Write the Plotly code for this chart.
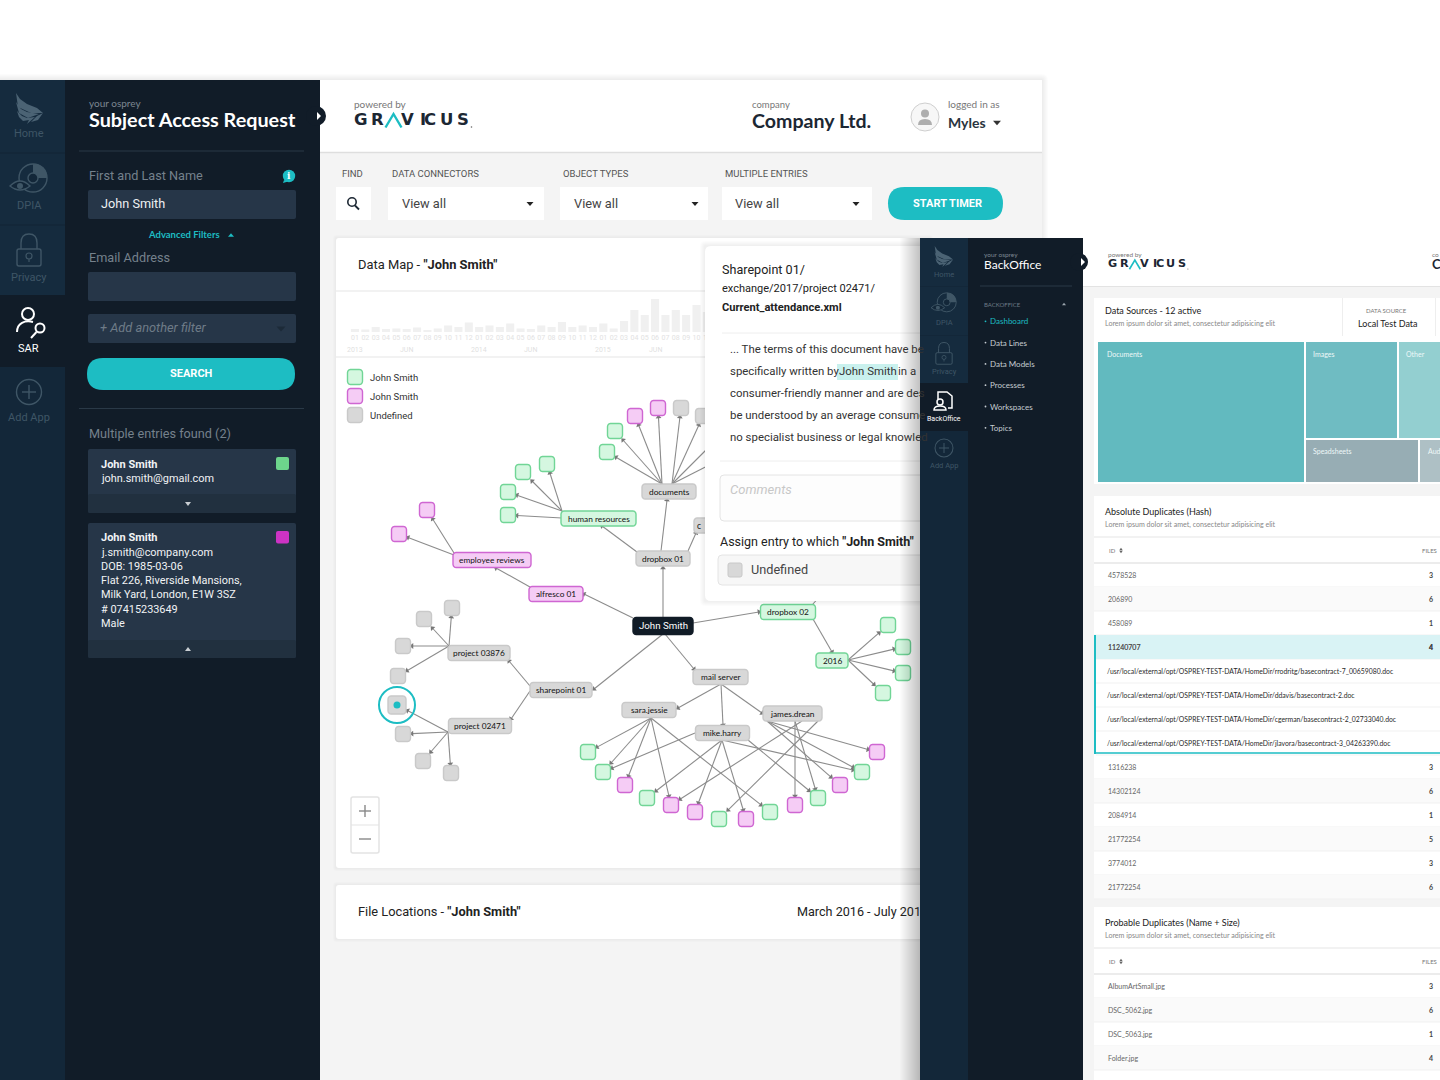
import math
import plotly.graph_objects as go

TEAL = "#1dbdc3"
EDGE = "#8c8c8c"
PANEL = "#111c28"
SIDE = "#132739"
ROW = "#152b3e"
INPUT = "#263648"

# mini timeline above the data map
month_ticks = ["01", "02", "03", "04", "05", "06", "07", "08", "09", "10", "11", "12"] * 3
month_counts = [3, 2.5, 5, 3, 3.5, 3, 4.5, 2, 3.5, 6.5, 5, 9.5,
                5, 6.5, 5, 8.5, 3.5, 3, 6.5, 5, 10, 5, 6.5, 5,
                8.5, 3.5, 11, 22, 17, 33, 17, 22, 17, 27, 20]
year_pos = [0, 5, 12, 17, 24, 29]
year_labels = ["2013", "JUN", "2014", "JUN", "2015", "JUN"]

# data map nodes: name, centre x, centre y, width, group
node_names = ["John Smith", "documents", "human resources", "dropbox 01", "c", "employee reviews", "alfresco 01",
              "project 03876", "sharepoint 01", "project 02471", "dropbox 02", "2016", "mail server",
              "sara.jessie", "mike.harry", "james.drean"]
node_x = [663, 669, 598.5, 663, 721, 492, 556, 479, 561, 480, 788, 832, 720.5, 649, 722.5, 792.5]
node_y = [626, 491.5, 518.5, 558.5, 525.5, 560, 594, 653, 690, 726, 612, 660.5, 677, 710, 733, 713.5]
node_w = [60, 54, 75, 54, 54, 78, 54, 62, 62, 63, 55, 32, 55, 54, 54, 59]
node_group = ["dark", "grey", "green", "grey", "grey", "pink", "pink", "grey", "grey", "grey",
              "green", "green", "grey", "grey", "grey", "grey"]

leaf_names = ["d1", "d2", "d3", "d4", "d5", "d6", "d7", "d8", "h1", "h2", "h3", "h4", "e1", "e2",
              "p1", "p2", "p3", "p4", "q1", "q2", "q3", "q4", "y1", "y2", "y3", "y4", "z0",
              "b1", "b2", "b3", "b4", "b5", "b6", "b7", "b8", "b9", "b10", "b11", "b12", "b13", "b14"]
leaf_x = [607, 615, 635, 658, 681, 703, 725, 735, 508, 508, 523, 547, 427, 399,
          452, 424, 403, 398, 397, 403, 423, 451, 888, 903, 903, 883, 835,
          588, 603, 625, 647, 671, 695, 719, 746, 770, 795, 818, 840, 862, 877]
leaf_y = [452, 431, 416, 408, 408, 416, 431, 452, 492, 515, 472, 464, 510, 534,
          608, 619, 646, 676, 705, 734, 761, 773, 625, 647, 673, 693, 580,
          752, 772, 785, 798, 805, 812, 819, 819, 812, 805, 798, 785, 772, 752]
leaf_group = ["green", "green", "pink", "pink", "grey", "grey", "grey", "grey", "green", "green", "green", "green",
              "pink", "pink", "grey", "grey", "grey", "grey", "grey", "grey", "grey", "grey",
              "green", "green", "green", "green", "green",
              "green", "green", "pink", "green", "pink", "pink", "green", "pink", "green", "pink", "green",
              "pink", "green", "pink"]

# edges: source, target, where the line leaves the source
edges = [
    ("John Smith", "dropbox 01", 663, 618), ("John Smith", "alfresco 01", 633, 618),
    ("John Smith", "sharepoint 01", 663, 634), ("John Smith", "mail server", 665, 634),
    ("John Smith", "dropbox 02", 693, 623),
    ("dropbox 01", "documents", 661, 551), ("dropbox 01", "human resources", 637, 552), ("dropbox 01", "c", 688, 551),
    ("alfresco 01", "employee reviews", 530, 587),
    ("sharepoint 01", "project 03876", 530, 686), ("sharepoint 01", "project 02471", 530, 691),
    ("dropbox 02", "2016", 813, 619), ("dropbox 02", "z0", 812, 605),
    ("mail server", "sara.jessie", 721, 684), ("mail server", "mike.harry", 721, 684), ("mail server", "james.drean", 721, 684),
    ("documents", "d1", 662, 484), ("documents", "d2", 662, 484), ("documents", "d3", 662, 484), ("documents", "d4", 662, 484),
    ("documents", "d5", 672, 484), ("documents", "d6", 672, 484), ("documents", "d7", 672, 484), ("documents", "d8", 672, 484),
    ("human resources", "h1", 562, 511), ("human resources", "h2", 562, 518), ("human resources", "h3", 562, 511), ("human resources", "h4", 562, 511),
    ("employee reviews", "e1", 454, 553), ("employee reviews", "e2", 454, 555),
    ("project 03876", "p1", 449, 646), ("project 03876", "p2", 449, 646), ("project 03876", "p3", 449, 646), ("project 03876", "p4", 449, 646),
    ("project 02471", "q1", 448, 732), ("project 02471", "q2", 448, 732), ("project 02471", "q3", 448, 732), ("project 02471", "q4", 448, 732),
    ("2016", "y1", 848, 660), ("2016", "y2", 848, 660), ("2016", "y3", 848, 660), ("2016", "y4", 848, 660),
    ("sara.jessie", "b1", 651, 718), ("sara.jessie", "b2", 651, 718), ("sara.jessie", "b3", 651, 718),
    ("sara.jessie", "b5", 651, 718), ("sara.jessie", "b9", 651, 718),
    ("mike.harry", "b2", 695, 733), ("mike.harry", "b4", 722, 740), ("mike.harry", "b6", 722, 740),
    ("mike.harry", "b8", 722, 740), ("mike.harry", "b11", 748, 740), ("mike.harry", "b13", 722, 740),
    ("james.drean", "b14", 767, 721), ("james.drean", "b13", 767, 721), ("james.drean", "b12", 767, 721),
    ("james.drean", "b10", 795, 721), ("james.drean", "b11", 795, 721), ("james.drean", "b7", 818, 721),
    ("james.drean", "b5", 802, 721),
]

# arrow tips on labelled targets
edge_tips = {
    ("John Smith", "dropbox 01"): (663, 568), ("John Smith", "alfresco 01"): (584, 594),
    ("John Smith", "sharepoint 01"): (594, 689), ("John Smith", "mail server"): (694, 669),
    ("John Smith", "dropbox 02"): (759, 612), ("dropbox 01", "documents"): (667, 500),
    ("dropbox 01", "human resources"): (602, 526), ("dropbox 01", "c"): (696, 533),
    ("alfresco 01", "employee reviews"): (496, 568), ("sharepoint 01", "project 03876"): (509, 661),
    ("sharepoint 01", "project 02471"): (511, 719), ("dropbox 02", "2016"): (832, 652),
    ("mail server", "sara.jessie"): (678, 708), ("mail server", "mike.harry"): (723, 725),
    ("mail server", "james.drean"): (762, 713),
}

legend_labels = ["John Smith", "John Smith", "Undefined"]
legend_groups = ["green", "pink", "grey"]
legend_y = [377, 396, 415]

filter_labels = ["FIND", "DATA CONNECTORS", "OBJECT TYPES", "MULTIPLE ENTRIES"]
filter_label_x = [342, 392, 563, 725]

entry_lines = ["j.smith@company.com", "DOB: 1985-03-06", "Flat 226, Riverside Mansions,",
               "Milk Yard, London, E1W 3SZ", "# 07415233649", "Male"]

doc_lines = ["... The terms of this document have be", "specifically written by", "consumer-friendly manner and are des",
             "be understood by an average consume", "no specialist business or legal knowled"]

menu_items = ["Dashboard", "Data Lines", "Data Models", "Processes", "Workspaces", "Topics"]

hash_ids = ["4578528", "206890", "458089", "11240707"]
hash_files = [3, 6, 1, 4]
hash_paths = ["/usr/local/external/opt/OSPREY-TEST-DATA/HomeDir/rrodritg/basecontract-7_00659080.doc",
              "/usr/local/external/opt/OSPREY-TEST-DATA/HomeDir/ddavis/basecontract-2.doc",
              "/usr/local/external/opt/OSPREY-TEST-DATA/HomeDir/cgerman/basecontract-2_02733040.doc",
              "/usr/local/external/opt/OSPREY-TEST-DATA/HomeDir/jlavora/basecontract-3_04263390.doc"]
hash_ids2 = ["1316238", "14302124", "2084914", "21772254", "3774012", "21772254"]
hash_files2 = [3, 6, 1, 5, 3, 6]
name_ids = ["AlbumArtSmall.jpg", "DSC_5062.jpg", "DSC_5063.jpg", "Folder.jpg"]
name_files = [3, 6, 1, 4]

shapes = []
notes = []


def rr_path(x0, y0, x1, y1, r):
    return (f"M{x0+r},{y0} L{x1-r},{y0} Q{x1},{y0} {x1},{y0+r} L{x1},{y1-r} Q{x1},{y1} {x1-r},{y1} "
            f"L{x0+r},{y1} Q{x0},{y1} {x0},{y1-r} L{x0},{y0+r} Q{x0},{y0} {x0+r},{y0} Z")


def rect(x0, y0, x1, y1, fill, layer="below", r=0, line=None, lw=1):
    s = dict(xref="x", yref="y", layer=layer, fillcolor=fill, line=dict(color=line or "rgba(0,0,0,0)", width=lw if line else 0))
    if r:
        s.update(type="path", path=rr_path(x0, y0, x1, y1, r))
    else:
        s.update(type="rect", x0=x0, y0=y0, x1=x1, y1=y1)
    shapes.append(s)


def path(d, fill="rgba(0,0,0,0)", line=None, lw=1, layer="below"):
    shapes.append(dict(type="path", path=d, xref="x", yref="y", layer=layer, fillcolor=fill,
                       line=dict(color=line or "rgba(0,0,0,0)", width=lw if line else 0)))


def circle(cx, cy, r, fill="rgba(0,0,0,0)", line=None, lw=1, layer="below"):
    shapes.append(dict(type="circle", x0=cx-r, x1=cx+r, y0=cy-r, y1=cy+r, xref="x", yref="y", layer=layer,
                       fillcolor=fill, line=dict(color=line or "rgba(0,0,0,0)", width=lw if line else 0)))


def seg(x0, y0, x1, y1, color, lw=1, layer="below"):
    shapes.append(dict(type="line", x0=x0, y0=y0, x1=x1, y1=y1, xref="x", yref="y", layer=layer, line=dict(color=color, width=lw)))


def tri(cx, cy, w, h, color, up=True, layer="below"):
    t, b = (cy-h/2, cy+h/2) if up else (cy+h/2, cy-h/2)
    path(f"M{cx-w/2},{b} L{cx+w/2},{b} L{cx},{t} Z", fill=color, layer=layer)


def text(x, y, s, size=12, color="#333", anchor="left", family="Roboto", xref="x"):
    # larger text sits a little low against the reference
    if size >= 9:
        y -= 0.7
    notes.append(dict(x=x, y=y, text=s, xref=xref, yref="y", xanchor=anchor, yanchor="middle", showarrow=False,
                      borderpad=0, borderwidth=0, font=dict(size=size, color=color, family=family)))


def shadow(x0, y0, x1, y1, spread, layer, alpha=0.012):
    for i in range(spread):
        d = spread - i
        rect(x0-d, y0-d, x1+d, y1+d, f"rgba(0,0,0,{alpha})", layer=layer, r=d)


def logo(x, y, k, layer="below"):
    # wordmark with the teal chevron in place of the A
    for ch, dx in zip("GRVICUS", [0, 17, 47, 66, 70, 86, 102.5]):
        text(x + dx*k, y, f"<b>{ch}</b>", 16.5*k, "#1c2733", family="DejaVu Sans")
    path(f"M{x+31.5*k},{y+7*k} L{x+39.5*k},{y-6.5*k} L{x+47.5*k},{y+7*k}", line=TEAL, lw=2.4*k, layer=layer)
    circle(x+117.5*k, y+6.5*k, 0.8*k, fill="#666", layer=layer)


def bird(x, y, k, color, layer="below"):
    feathers = [[(1, 0), (5, 6), (12, 11), (22, 15), (28, 20), (16, 20), (3, 14), (1, 0)],
                [(1, 9), (6, 16), (12, 19), (24, 21), (13, 25), (4, 20), (1, 9)],
                [(2, 18), (7, 23), (12, 25), (20, 24), (12, 31), (14, 27), (8, 28), (4, 24), (2, 18)],
                [(28, 20), (23, 27), (16, 29), (22, 23), (28, 20)]]
    for f in feathers:
        d = "M" + " L".join(f"{x+a*k},{y+b*k}" for a, b in f) + " Z"
        path(d, fill=color, layer=layer)


def disc_icon(cx, cy, k, color, layer="below"):
    circle(cx+4*k, cy-1*k, 14*k, line=color, lw=1.4*k, layer=layer)
    path(f"M{cx+4*k},{cy-15*k} Q{cx+18*k},{cy-15*k} {cx+18*k},{cy-1*k} L{cx+9*k},{cy-1*k} L{cx+4*k},{cy-6*k} Z", fill=color, layer=layer)
    circle(cx+4*k, cy-1*k, 5*k, fill=SIDE, line=color, lw=1.4*k, layer=layer)
    path(f"M{cx-19*k},{cy+7*k} Q{cx-9*k},{cy-3*k} {cx+1*k},{cy+7*k} Q{cx-9*k},{cy+15*k} {cx-19*k},{cy+7*k} Z", fill=SIDE, line=color, lw=1.4*k, layer=layer)
    circle(cx-9*k, cy+7*k, 3*k, fill=color, layer=layer)


def lock_icon(cx, cy, k, color, layer="below"):
    rect(cx-12*k, cy+1*k, cx+12*k, cy+18*k, "rgba(0,0,0,0)", layer=layer, r=2*k, line=color, lw=1.4*k)
    path(f"M{cx-8*k},{cy+1*k} L{cx-8*k},{cy-5*k} Q{cx-8*k},{cy-14*k} {cx},{cy-14*k} Q{cx+8*k},{cy-14*k} {cx+8*k},{cy-5*k} L{cx+8*k},{cy+1*k}", line=color, lw=1.4*k, layer=layer)
    circle(cx, cy+8*k, 3*k, line=color, lw=1.2*k, layer=layer)
    seg(cx, cy+11*k, cx, cy+14*k, color, 1.2*k, layer)


def plus_icon(cx, cy, k, color, layer="below"):
    circle(cx, cy, 12.5*k, line=color, lw=1.4*k, layer=layer)
    seg(cx-7*k, cy, cx+7*k, cy, color, 1.4*k, layer)
    seg(cx, cy-7*k, cx, cy+7*k, color, 1.4*k, layer)


# --- first window --------------------------------------------------------
shadow(0, 80, 1042, 1090, 6, "below", 0.01)
rect(320, 80, 1042, 1080, "#f4f4f4")
rect(320, 80, 1042, 152, "#ffffff")
seg(320, 152.5, 1042, 152.5, "#dedede", 1.5)
rect(0, 80, 65, 1080, SIDE)
rect(65, 80, 320, 1080, PANEL)
rect(0, 80, 65, 152, ROW)
rect(0, 154, 65, 224, ROW)
rect(0, 226, 65, 295, ROW)
rect(0, 295, 65, 367, PANEL)

icon_dim = "#3f5666"
bird(15, 93, 1, "#4b6374")
text(29, 134, "Home", 11, icon_dim, "center")
disc_icon(29, 179, 1, icon_dim)
text(29, 206, "DPIA", 11, icon_dim, "center")
lock_icon(29, 248, 1, icon_dim)
text(29, 278, "Privacy", 11, icon_dim, "center")
circle(28, 314, 6, line="#ffffff", lw=2)
path("M17,332 C17,323 25,320 33,322", line="#ffffff", lw=2)
circle(40, 328, 4.5, line="#ffffff", lw=2)
seg(36.5, 332, 31, 338, "#ffffff", 2)
text(28, 349.5, "SAR", 11, "#ffffff", "center")
plus_icon(29, 392, 1, icon_dim)
text(29, 418.5, "Add App", 11, icon_dim, "center")

text(89, 104, "your osprey", 10, "#7d8791", family="Lato")
text(89, 120, "<b>Subject Access Request</b>", 19.8, "#ffffff", family="Lato")
seg(79, 151, 304, 151, "#2a3947", 1)
text(89, 176, "First and Last Name", 12.7, "#75818c")
circle(289, 176, 6.2, fill=TEAL)
path("M284,180 L283,183 L288,181.5 Z", fill=TEAL)
text(289, 176.5, "<b>i</b>", 9, "#ffffff", "center", family="DejaVu Serif")
rect(88, 190, 296, 219, INPUT, r=2)
text(101, 204, "John Smith", 12.7, "#eef1f3")
text(148, 235.5, "<b>Advanced Filters</b>", 9.5, TEAL, family="Lato")
tri(231, 235, 6, 3.5, TEAL)
text(89, 258, "Email Address", 12.7, "#75818c")
rect(88, 272, 296, 301, INPUT, r=2)
rect(88, 314, 296, 343, INPUT, r=2)
text(100, 328, "<i>+ Add another filter</i>", 12.8, "#6e7b87")
tri(281, 329, 9, 5, "#1c2a38", up=False)
rect(87, 358, 295, 390, TEAL, r=16)
text(191, 374, "<b>SEARCH</b>", 11, "#ffffff", "center")
seg(79, 408.5, 304, 408.5, "#2a3947", 1)
text(89, 434, "Multiple entries found (2)", 12.7, "#75818c")

rect(88, 449, 296, 513, INPUT, r=2)
rect(88, 494, 296, 513, "#21303f", r=2)
text(101, 465, "<b>John Smith</b>", 11, "#f1f3f5")
text(101, 479.5, "john.smith@gmail.com", 10.9, "#f1f3f5")
rect(276, 457, 289, 470, "#6dd58c", r=2)
tri(188, 504, 6, 4, "#c9ced3", up=False)

rect(88, 523, 296, 658, INPUT, r=2)
rect(88, 640, 296, 658, "#21303f", r=2)
text(101, 538.5, "<b>John Smith</b>", 11, "#f1f3f5")
for i, line in enumerate(entry_lines):
    text(101, 553 + i*14.2, line, 10.9, "#f1f3f5")
rect(276, 531, 289, 543.5, "#cc33c4", r=2)
tri(188, 649, 6, 4, "#c9ced3")

circle(316, 116, 10, fill=PANEL)
path("M317,112 L317,120 L321,116 Z", fill="#ffffff")

text(354, 105, "powered by", 10, "#777", family="Lato")
logo(354, 120.5, 1)
text(752, 105, "company", 9.5, "#777", family="Lato")
text(752, 121.5, "<b>Company Ltd.</b>", 19.6, "#1c2733", family="Lato")
circle(925, 117, 14, fill="#f7f7f7", line="#cfcfcf")
circle(925, 113.5, 4, fill="#aeaeae")
path("M918,125 Q918,119 925,119 Q932,119 932,125 Z", fill="#aeaeae")
text(948, 105, "logged in as", 10, "#777", family="Lato")
text(948, 123.5, "<b>Myles</b>", 14, "#2a3540", family="Lato")
tri(997, 123, 8, 4.5, "#333", up=False)

for lab, lx in zip(filter_labels, filter_label_x):
    text(lx, 174, lab, 9.5, "#555")
rect(336, 187, 371, 220, "#ffffff")
circle(352, 202, 4.2, line="#1c2733", lw=1.6)
seg(355, 205.5, 359, 209.5, "#1c2733", 1.8)
for x0, x1, tx, cx in [(388, 544, 402, 530), (560, 708, 574, 695), (722, 872, 735, 856)]:
    rect(x0, 187, x1, 220, "#ffffff")
    text(tx, 204, "View all", 12.8, "#444")
    tri(cx, 204, 7, 4, "#222", up=False)
rect(888, 187, 1003, 220, TEAL, r=16.5)
text(947, 204, "<b>START TIMER</b>", 11, "#ffffff", "center")

shadow(336, 238, 930, 868, 3, "below", 0.012)
rect(336, 238, 930, 868, "#ffffff", r=3)
seg(336, 291, 930, 291, "#eeeeee", 1.5)
seg(336, 357, 930, 357, "#eeeeee", 1.5)
text(358, 265, 'Data Map - <b>"John Smith"</b>', 12.9, "#222")
for lab, ly in zip(legend_labels, legend_y):
    text(370, ly + 1, lab, 9.5, "#333")
for p, lbl in zip(year_pos, year_labels):
    text(p, 350, lbl, 7, "#dfdfdf", "center", xref="x2")

rect(351, 797, 379, 853, "#ffffff", line="#e3e3e3", lw=1.5, r=2)
seg(351, 825, 379, 825, "#e3e3e3", 1)
seg(359, 811, 371, 811, "#888", 1.4)
seg(365, 805, 365, 817, "#888", 1.4)
seg(359, 839, 371, 839, "#888", 1.4)

shadow(336, 885, 930, 939, 3, "below", 0.012)
rect(336, 885, 930, 939, "#ffffff", r=3)
text(358, 912, 'File Locations - <b>"John Smith"</b>', 12.8, "#222")
text(797, 912, "March 2016 - July 201", 12.6, "#222")

# --- popup over the map (above the graph traces) -------------------------
A = "above"
shadow(705, 246, 930, 601, 5, A, 0.012)
rect(705, 246, 930, 601, "#ffffff", layer=A, r=6)
text(722, 270, "Sharepoint 01/", 12.6, "#222")
text(722, 289, "exchange/2017/project 02471/", 11, "#222")
text(722, 308, "<b>Current_attendance.xml</b>", 11.1, "#222")
seg(722, 333, 920, 333, "#eeeeee", 1, A)
rect(837, 364, 898, 380, "#c9f1ee", layer=A)
for i, line in enumerate(doc_lines):
    text(730, 350 + i*22, line, 11.4, "#333")
text(839, 372, "John Smith", 11.4, "#333")
text(898, 372, "in a", 11.4, "#333")
seg(720, 461, 920, 461, "#eeeeee", 1, A)
rect(720, 475, 935, 521, "#fdfdfd", layer=A, r=4, line="#e4e4e4")
text(730, 490, "<i>Comments</i>", 13, "#c8c8c8")
text(720, 542, 'Assign entry to which <b>"John Smith"</b>', 12.5, "#222")
rect(718, 555, 935, 585, "#f7f7f7", layer=A, r=4, line="#e4e4e4")
rect(728, 563, 742, 577, "#d8d8d8", layer=A, r=2, line="#c8c8c8")
text(751, 570, "Undefined", 12.7, "#444")

# --- second window -------------------------------------------------------
for i in range(20):
    rect(900 + i, 238, 920, 1080, "rgba(0,0,0,0.012)", layer=A)
rect(920, 238, 1440, 1080, "#f4f4f4", layer=A)
rect(1083, 238, 1440, 286, "#ffffff", layer=A)
seg(1083, 286.5, 1440, 286.5, "#e3e3e3", 1, A)
rect(920, 238, 968, 1080, SIDE, layer=A)
rect(968, 238, 1083, 1080, PANEL, layer=A)
rect(920, 238, 968, 286, ROW, layer=A)
rect(920, 287, 968, 335, ROW, layer=A)
rect(920, 336, 968, 383, ROW, layer=A)
rect(920, 383, 968, 431, PANEL, layer=A)
bird(934, 246, 0.68, "#4b6374", A)
text(944, 274, "Home", 7.5, icon_dim, "center")
disc_icon(944, 303, 0.68, icon_dim, A)
text(944, 322, "DPIA", 7.5, icon_dim, "center")
lock_icon(944, 352, 0.68, icon_dim, A)
text(944, 371, "Privacy", 7.5, icon_dim, "center")
path("M938,399 L938,392 L947,392 L952,396 L952,408 L948,408", line="#ffffff", lw=1.5, layer=A)
circle(940, 402, 3, line="#ffffff", lw=1.5, layer=A)
path("M934,410 Q934,406 940,406 Q946,406 946,410 Z", line="#ffffff", lw=1.5, layer=A)
text(944, 419, "BackOffice", 7, "#ffffff", "center")
plus_icon(944, 448, 0.72, icon_dim, A)
text(944, 465.5, "Add App", 7.5, icon_dim, "center")

text(984, 254, "your osprey", 6.5, "#7d8791", family="Lato")
text(984, 265, "BackOffice", 12, "#ffffff", family="Lato")
seg(980, 286, 1072, 286, "#2a3947", 1, A)
text(984, 304, "BACKOFFICE", 6, "#6e7b87", family="Lato")
tri(1064, 304, 4, 2.5, "#9aa4ad", layer=A)
for i, item in enumerate(menu_items):
    c = TEAL if i == 0 else "#c6ccd2"
    circle(985.5, 321.3 + i*21.3, 0.9, fill=c, layer=A)
    text(990, 321.3 + i*21.3, item, 8, c, family="Lato")

circle(1079, 262, 9, fill=PANEL, layer=A)
path("M1081,258 L1081,266 L1085,262 Z", fill="#ffffff", layer=A)

text(1108, 254, "powered by", 6.5, "#777", family="Lato")
logo(1108, 264.5, 0.68, A)
text(1432, 254, "co", 6.5, "#777", family="Lato")
text(1432, 265, "<b>C</b>", 13, "#1c2733", family="Lato")

# data sources card with the treemap
rect(1094, 298, 1440, 484, "#ffffff", layer=A)
seg(1342.5, 298, 1342.5, 336, "#eeeeee", 1, A)
seg(1435.5, 298, 1435.5, 336, "#eeeeee", 1, A)
text(1105, 311, "Data Sources - 12 active", 9, "#222", family="Lato")
text(1105, 323.5, "Lorem ipsum dolor sit amet, consectetur adipisicing elit", 7.1, "#888", family="Lato")
text(1386, 310.5, "DATA SOURCE", 6, "#777", "center", family="Lato")
text(1388, 324, "Local Test Data", 9, "#222", "center", family="Lato")
rect(1098, 342, 1304, 482, "#62babf", layer=A)
rect(1306, 342, 1397, 438, "#6fbcc2", layer=A)
rect(1399, 342, 1440, 438, "#93cfd0", layer=A)
rect(1306, 440, 1418, 482, "#97adb4", layer=A)
rect(1420, 440, 1440, 482, "#aec0c5", layer=A)
text(1107, 354, "Documents", 7, "#eef8f8", family="Lato")
text(1313, 354, "Images", 7, "#eef8f8", family="Lato")
text(1406, 354, "Other", 7, "#eef8f8", family="Lato")
text(1313, 450.5, "Speadsheets", 7, "#eef8f8", family="Lato")
text(1428, 450.5, "Aud", 7, "#eef8f8", family="Lato")


def table_rows(y_first, ids, files, layer=A):
    for i, (row_id, row_files) in enumerate(zip(ids, files)):
        y = y_first + i*24
        if i % 2:
            rect(1094, y-12, 1440, y+12, "#fafafa", layer=layer)
        seg(1094, y+12, 1440, y+12, "#f1f1f1", 1, layer)
        text(1108, y-0.5, row_id, 7, "#666", family="Lato")
        text(1433, y-0.5, f"<b>{row_files}</b>", 7, "#444", "right", family="Lato")


# absolute duplicates
rect(1094, 496, 1440, 896, "#ffffff", layer=A)
text(1105, 512, "Absolute Duplicates (Hash)", 9, "#222", family="Lato")
text(1105, 524, "Lorem ipsum dolor sit amet, consectetur adipisicing elit", 7.1, "#888", family="Lato")
seg(1094, 537, 1440, 537, "#eeeeee", 1.5, A)
text(1109, 550, "ID", 6, "#777", family="Lato")
tri(1121, 549, 3.5, 2.5, "#666", layer=A)
tri(1121, 552, 3.5, 2.5, "#666", up=False, layer=A)
text(1437, 550, "FILES", 6, "#777", "right", family="Lato")
seg(1094, 563, 1440, 563, "#e6e6e6", 1.5, A)
table_rows(575, hash_ids, hash_files)
rect(1094, 635, 1440, 659, "#d9f3f5", layer=A)
text(1108, 646.5, hash_ids[3], 7, "#555", family="Lato")
text(1433, 646.5, f"<b>{hash_files[3]}</b>", 7, "#444", "right", family="Lato")
for i, p in enumerate(hash_paths):
    y = 671 + i*24
    seg(1096, y+12, 1440, y+12, "#f1f1f1", 1, A)
    text(1107, y-0.5, p, 6.85, "#2a2a2a", family="Lato")
rect(1094, 635, 1096, 754, TEAL, layer=A)
seg(1094, 753, 1440, 753, TEAL, 1.5, A)
table_rows(767, hash_ids2, hash_files2)

# probable duplicates
rect(1094, 907, 1440, 1080, "#ffffff", layer=A)
text(1105, 923, "Probable Duplicates (Name + Size)", 9, "#222", family="Lato")
text(1105, 935, "Lorem ipsum dolor sit amet, consectetur adipisicing elit", 7.1, "#888", family="Lato")
seg(1094, 948, 1440, 948, "#eeeeee", 1.5, A)
text(1109, 961, "ID", 6, "#777", family="Lato")
tri(1121, 960, 3.5, 2.5, "#666", layer=A)
tri(1121, 963, 3.5, 2.5, "#666", up=False, layer=A)
text(1437, 961, "FILES", 6, "#777", "right", family="Lato")
seg(1094, 974, 1440, 974, "#e6e6e6", 1.5, A)
table_rows(986, name_ids, name_files)

# --- graph ---------------------------------------------------------------
group_style = {"green": ("#d5f7e0", "#71d596"), "pink": ("#f5ccf5", "#cf66d2"),
               "grey": ("#d8d8d8", "#c9c9c9"), "dark": ("#101b26", "#101b26")}
NODE_H = 15
pos = {}
for n, x, y, w in zip(node_names, node_x, node_y, node_w):
    pos[n] = (x, y, w, NODE_H)
for n, x, y in zip(leaf_names, leaf_x, leaf_y):
    pos[n] = (x, y, 15, 15)
pos["John Smith"] = (663, 626, 60, 17)
pos["q1"] = (397, 705, 18, 18)


def end_point(sx, sy, box):
    # stop the edge at the border of the target box
    cx, cy, w, h = box
    dx, dy = cx - sx, cy - sy
    t = max(abs(dx) / (w/2 + 1.5), abs(dy) / (h/2 + 1.5), 1e-6)
    return cx - dx/t, cy - dy/t


ex, ey, ax, ay, aa = [], [], [], [], []
for src, tgt, sx, sy in edges:
    px, py = edge_tips.get((src, tgt)) or end_point(sx, sy, pos[tgt])
    ex += [sx, px, None]
    ey += [sy, py, None]
    ax.append(px)
    ay.append(py)
    aa.append(math.degrees(math.atan2(px - sx, -(py - sy))))


def round_box(cx, cy, w, h, r=3):
    xs, ys = [], []
    corners = [(cx+w/2-r, cy-h/2+r, -90), (cx+w/2-r, cy+h/2-r, 0), (cx-w/2+r, cy+h/2-r, 90), (cx-w/2+r, cy-h/2+r, 180)]
    for qx, qy, start in corners:
        for a in range(start, start + 91, 30):
            xs.append(qx + r*math.cos(math.radians(a)))
            ys.append(qy + r*math.sin(math.radians(a)))
    return xs + [xs[0], None], ys + [ys[0], None]


fig = go.Figure()
fig.add_trace(go.Scatter(x=ex, y=ey, mode="lines", line=dict(color=EDGE, width=1.1), hoverinfo="skip"))
fig.add_trace(go.Scatter(x=ax, y=ay, mode="markers", hoverinfo="skip",
                         marker=dict(symbol="triangle-up", size=5, color="#777", angle=aa)))

all_names = node_names + leaf_names
all_groups = node_group + leaf_group
for group, (fill, line) in group_style.items():
    xs, ys = [], []
    for n, g in zip(all_names, all_groups):
        if g == group:
            bx, by = round_box(*pos[n])
            xs += bx
            ys += by
    for g, ly in zip(legend_groups, legend_y):
        if g == group:
            bx, by = round_box(355, ly, 15, 15)
            xs += bx
            ys += by
    fig.add_trace(go.Scatter(x=xs, y=ys, mode="lines", fill="toself", fillcolor=fill, hoverinfo="skip",
                             line=dict(color=line, width=1.4)))

# selected leaf
sel_x = [pos["q1"][0]]
sel_y = [pos["q1"][1]]
fig.add_trace(go.Scatter(x=sel_x, y=sel_y, mode="markers", hoverinfo="skip",
                         marker=dict(symbol="circle-open", size=36, line=dict(color=TEAL, width=2), color=TEAL)))
fig.add_trace(go.Scatter(x=sel_x, y=sel_y, mode="markers", hoverinfo="skip", marker=dict(size=7, color=TEAL)))

for n, x, y in zip(node_names, node_x, node_y):
    if n == "John Smith":
        text(x, y, n, 9.7, "#ffffff", "center")
    elif n == "c":
        text(697, y, n, 8.5, "#111", family="Lato")
    else:
        text(x, y, n, 8.3, "#111", "center", family="Lato")

fig.add_trace(go.Bar(x=list(range(len(month_counts))), y=month_counts, width=0.78, xaxis="x2", yaxis="y2",
                     marker=dict(color="#f0f0f0", line=dict(width=0)), hoverinfo="skip"))

fig.update_layout(
    width=1440, height=1080, margin=dict(l=0, r=0, t=0, b=0), showlegend=False,
    paper_bgcolor="#ffffff", plot_bgcolor="rgba(0,0,0,0)", shapes=shapes, annotations=notes,
    xaxis=dict(range=[0, 1440], visible=False, fixedrange=True, domain=[0, 1]),
    yaxis=dict(range=[1080, 0], visible=False, fixedrange=True, domain=[0, 1]),
    xaxis2=dict(anchor="y2", domain=[349.8/1440, 712/1440], range=[-0.5, 34.5], fixedrange=True,
                tickmode="array", tickvals=list(range(len(month_counts))), ticktext=month_ticks[:len(month_counts)],
                tickfont=dict(size=7, color="#e2e2e2", family="Roboto"), ticks="", ticklen=0, showgrid=False, showline=False, zeroline=False),
    yaxis2=dict(anchor="x2", domain=[1-332/1080, 1-297/1080], range=[0, 35], visible=False, fixedrange=True),
)

fig.write_html("out.html", config={"displayModeBar": False}, post_script="document.body.style.margin='0';")
